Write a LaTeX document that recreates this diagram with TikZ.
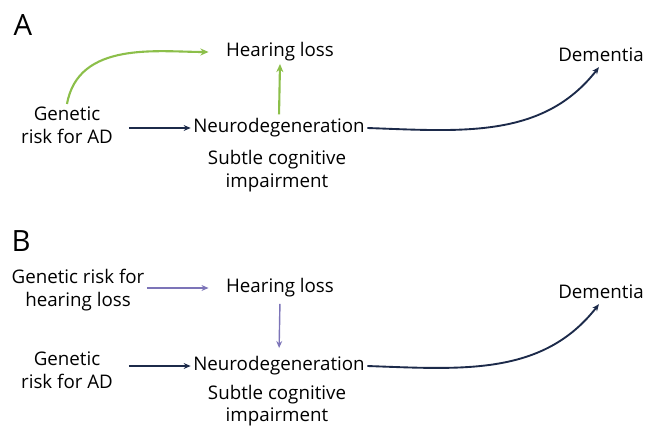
\documentclass[tikz,border=0pt]{standalone}
\usepackage{fontspec}
\setmainfont{Open Sans}
\usetikzlibrary{arrows.meta}

\definecolor{navyline}{HTML}{1C2A4A}
\definecolor{greenline}{HTML}{8CBF4A}
\definecolor{purpleline}{HTML}{7C74B8}

\begin{document}
\begin{tikzpicture}[
    every node/.style={font=\fontsize{16}{19.5}\selectfont, align=center, inner sep=2pt},
    panel/.style={font=\fontsize{25}{30}\selectfont},
    navyarrow/.style={line width=1.6pt, navyline, -{Stealth[length=6pt, width=5pt]}},
    greenarrow/.style={line width=1.8pt, greenline, -{Stealth[length=7pt, width=6pt]}},
    purplearrow/.style={line width=1.2pt, purpleline, -{Stealth[length=6pt, width=5pt]}}
  ]
  \useasboundingbox (0,0) rectangle (19.44,12.75);

  % A
  \node [panel] (A) at (0.69,12.0) {A};
  \node (hlA) at (8.4,11.19) {Hearing loss};
  \node (genA) at (2.01,9.0) {Genetic\\risk for AD};
  \node (neuA) at (8.37,8.91) {Neurodegeneration};
  \node (subA) at (8.31,7.62) {Subtle cognitive\\impairment};
  \node (demA) at (18.03,11.1) {Dementia};

  \draw [greenarrow, shorten >=0.45cm] (genA.north) to[out=80, in=180] (hlA.west);
  \draw [greenarrow, shorten <=0.05cm] (neuA.north) -- (hlA.south);
  \draw [navyarrow, shorten <=0.4cm] (genA.east |- neuA.west) -- (neuA.west);
  \draw [navyarrow, shorten >=0.1cm] (neuA.east) to[out=-2, in=-128] (demA.south);

  % B
  \node [panel] (B) at (0.63,5.52) {B};
  \node (ghlB) at (2.34,4.05) {Genetic risk for\\hearing loss};
  \node (hlB) at (8.4,4.11) {Hearing loss};
  \node (genB) at (2.01,1.65) {Genetic\\risk for AD};
  \node (neuB) at (8.37,1.77) {Neurodegeneration};
  \node (subB) at (8.31,0.58) {Subtle cognitive\\impairment};
  \node (demB) at (18.03,3.99) {Dementia};

  \draw [purplearrow, shorten >=0.45cm] (ghlB.east |- hlB.west) -- (hlB.west);
  \draw [purplearrow, shorten <=0.12cm, shorten >=0.18cm] (hlB.south) -- (neuB.north);
  \draw [navyarrow, shorten <=0.4cm] (genB.east |- neuB.west) -- (neuB.west);
  \draw [navyarrow, shorten >=0.1cm] (neuB.east) to[out=-2, in=-128] (demB.south);
\end{tikzpicture}
\end{document}
